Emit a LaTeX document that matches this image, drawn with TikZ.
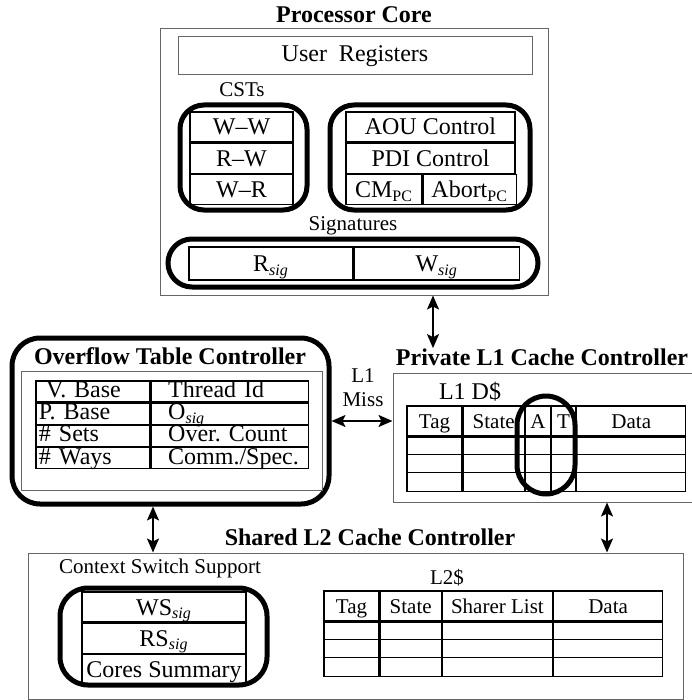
\documentclass[tikz,border=0pt]{standalone}
\usepackage{fontspec}
\setmainfont{Liberation Serif}
\usetikzlibrary{positioning, arrows.meta}
\frenchspacing

\begin{document}
\begin{tikzpicture}[x=0.5pt, y=-0.5pt,
        big/.style={font=\fontsize{12}{14}\selectfont},
        small/.style={font=\fontsize{10.5}{12}\selectfont},
        title/.style={font=\fontsize{12}{14}\selectfont\bfseries, inner sep=0pt},
        thinbox/.style={draw=black!60, line width=0.5pt, inner sep=0pt},
        ring/.style={draw, line width=2.5pt, inner sep=0pt},
        cell/.style={draw, line width=0.6pt, inner sep=0pt, text height=8pt, text depth=0pt},
        pcell/.style={cell, big, minimum height=15pt},
        cachecell/.style={cell, small, minimum height=15pt, text height=7pt},
        otleft/.style={cell, big, minimum height=10.5pt, text height=7pt, text depth=1pt, text width=57pt, align=left, execute at begin node=\hspace*{1.5pt}},
        otright/.style={cell, big, minimum height=10.5pt, text height=7pt, text depth=1pt, text width=78.5pt, align=left, execute at begin node=\hspace*{8.5pt}},
        biarrow/.style={{Stealth[length=7pt, width=6pt, inset=1.5pt]}-{Stealth[length=7pt, width=6pt, inset=1.5pt]}, line width=1pt}]

    \useasboundingbox (0,0) rectangle (691,700);

    % processor core
    \node[thinbox, minimum width=194pt, minimum height=133pt] (proc) at (354,162) {};
    \node[title] (proctitle) at (354,15) {Processor Core};
    \node[thinbox, big, minimum width=177pt, minimum height=19pt] (ureg) at (355,56) {User\ \ Registers};

    \node[small] (cstlbl) at (242,90) {CSTs};
    \node[pcell, minimum width=51.5pt] (ww) at (241.5,127) {W--W};
    \node[pcell, minimum width=51.5pt, below=0pt of ww] (rw) {R--W};
    \node[pcell, minimum width=51.5pt, below=0pt of rw] (wr) {W--R};
    \node[ring, minimum width=63.5pt, minimum height=52.5pt, rounded corners=12pt] (cstring) at (243.5,157.5) {};

    \node[pcell, minimum width=84.5pt] (aou) at (430.5,127) {AOU Control};
    \node[pcell, minimum width=84.5pt, below=0pt of aou] (pdi) {PDI Control};
    \node[pcell, minimum width=38pt, anchor=north west] (cm) at (pdi.south west) {CM\textsubscript{PC}};
    \node[pcell, minimum width=46.5pt, right=0pt of cm] (abort) {Abort\textsubscript{PC}};
    \node[ring, minimum width=100pt, minimum height=52.5pt, rounded corners=12pt] (ctlring) at (430,157.5) {};

    \node[small] (siglbl) at (353,226) {Signatures};
    \node[pcell, minimum width=82pt, minimum height=16.5pt] (rsig) at (271,263.5) {R\textsubscript{\textit{sig}}};
    \node[pcell, minimum width=82.5pt, minimum height=16.5pt, right=0pt of rsig] (wsig) {W\textsubscript{\textit{sig}}};
    \node[ring, minimum width=185pt, minimum height=24pt, rounded corners=12pt] (sigring) at (353,263) {};

    % overflow table controller
    \node[ring, minimum width=158.5pt, minimum height=83pt, rounded corners=14pt] (otc) at (170.5,421) {};
    \node[title] (otctitle) at (170,356) {Overflow Table Controller};
    \node[thinbox, minimum width=150.5pt, minimum height=59.5pt] (otin) at (171.5,430.5) {};
    \node[otleft] (vbase) at (93,391.5) {\hspace*{3.5pt}V. Base};
    \node[otleft, below=0pt of vbase] (pbase) {P. Base};
    \node[otleft, below=0pt of pbase] (nsets) {\# Sets};
    \node[otleft, below=0pt of nsets] (nways) {\# Ways};
    \node[otright, right=0pt of vbase] (tid) {Thread Id};
    \node[otright, right=0pt of pbase] (osig) {O\textsubscript{\textit{sig}}};
    \node[otright, right=0pt of nsets] (ocount) {Over. Count};
    \node[otright, right=0pt of nways] (commspec) {Comm./Spec.};

    \node[small, align=center] (miss) at (363,388) {L1\\Miss};

    % private L1
    \node[thinbox, minimum width=150.5pt, minimum height=64.5pt] (l1box) at (543.5,437.5) {};
    \node[title] (l1title) at (542,357) {Private L1 Cache Controller};
    \node[big] (l1lbl) at (470,392) {L1 D\$};
    \node[cachecell, minimum width=27.5pt] (l1tag) at (434.5,421) {Tag};
    \node[cachecell, minimum width=30.5pt, right=0pt of l1tag] (l1state) {State};
    \node[cachecell, minimum width=12.5pt, right=0pt of l1state] (l1a) {A};
    \node[cachecell, minimum width=12pt, right=0pt of l1a] (l1t) {T};
    \node[cachecell, minimum width=54.5pt, right=0pt of l1t] (l1data) {Data};
    \node[cell, minimum width=27.5pt, minimum height=27pt, below=0pt of l1tag] (l1tagcol) {};
    \node[cell, minimum width=30.5pt, minimum height=27pt, below=0pt of l1state] (l1statecol) {};
    \node[cell, minimum width=12.5pt, minimum height=27pt, below=0pt of l1a] (l1acol) {};
    \node[cell, minimum width=12pt, minimum height=27pt, below=0pt of l1t] (l1tcol) {};
    \node[cell, minimum width=54.5pt, minimum height=27pt, below=0pt of l1data] (l1datacol) {};
    \draw[line width=0.6pt] ([yshift=-9pt]l1tagcol.north west) -- ([yshift=-9pt]l1datacol.north east);
    \draw[line width=0.6pt] ([yshift=-18pt]l1tagcol.north west) -- ([yshift=-18pt]l1datacol.north east);
    \node[ring, minimum width=29pt, minimum height=49pt, rounded corners=14.5pt] (atring) at (546,445) {};

    % shared L2
    \node[thinbox, minimum width=327.5pt, minimum height=73pt] (l2box) at (355.5,626) {};
    \node[title] (l2title) at (370,537) {Shared L2 Cache Controller};
    \node[small] (csslbl) at (160,568) {Context Switch Support};
    \node[pcell, minimum width=82pt] (wssig) at (164,607) {WS\textsubscript{\textit{sig}}};
    \node[pcell, minimum width=82pt, below=0pt of wssig] (rssig) {RS\textsubscript{\textit{sig}}};
    \node[pcell, minimum width=82pt, below=0pt of rssig] (cores) {Cores Summary};
    \node[ring, minimum width=103.5pt, minimum height=48.5pt, rounded corners=14pt] (cssring) at (163.5,636.5) {};

    \node[small] (l2lbl) at (447,578) {L2\$};
    \node[cachecell, minimum width=27.5pt] (l2tag) at (351.5,606) {Tag};
    \node[cachecell, minimum width=30.5pt, right=0pt of l2tag] (l2state) {State};
    \node[cachecell, minimum width=55pt, right=0pt of l2state] (l2sharer) {Sharer List};
    \node[cachecell, minimum width=54.5pt, right=0pt of l2sharer] (l2data) {Data};
    \node[cell, minimum width=27.5pt, minimum height=27pt, below=0pt of l2tag] (l2tagcol) {};
    \node[cell, minimum width=30.5pt, minimum height=27pt, below=0pt of l2state] (l2statecol) {};
    \node[cell, minimum width=55pt, minimum height=27pt, below=0pt of l2sharer] (l2sharercol) {};
    \node[cell, minimum width=54.5pt, minimum height=27pt, below=0pt of l2data] (l2datacol) {};
    \draw[line width=0.6pt] ([yshift=-9pt]l2tagcol.north west) -- ([yshift=-9pt]l2datacol.north east);
    \draw[line width=0.6pt] ([yshift=-18pt]l2tagcol.north west) -- ([yshift=-18pt]l2datacol.north east);

    % connections
    \draw[biarrow] ([xshift=39.5pt]proc.south) -- ([xshift=39.5pt]proc.south |- l1title.north);
    \draw[biarrow] (otc.east) -- (otc.east -| l1box.west);
    \draw[biarrow] ([xshift=-8.75pt]otc.south) -- ([xshift=-8.75pt]otc.south |- l2box.north);
    \draw[biarrow] ([xshift=31.75pt]l1box.south) -- ([xshift=31.75pt]l1box.south |- l2box.north);
\end{tikzpicture}
\end{document}
